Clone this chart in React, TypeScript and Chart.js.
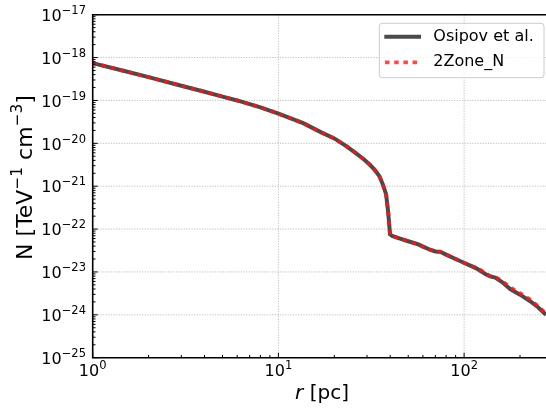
import React, { useEffect, useRef } from "react";
import { Chart, registerables } from "chart.js";

Chart.register(...registerables);

// ---- data ----
const R_PC = [1, 1.5, 2, 3, 4, 5, 6, 8, 10, 13.6, 17, 20, 23.3, 26, 28.7, 31, 33, 35, 36.5, 38, 39, 39.9, 41, 45.2, 50, 56.7, 61, 65.5, 70, 74.2, 80.5, 90, 99, 108, 117, 125, 130, 138, 147, 160, 177, 200, 226, 250, 276, 300];
const N_OSIPOV = [7.4e-19, 4.8e-19, 3.5e-19, 2.2e-19, 1.6e-19, 1.23e-19, 1.0e-19, 6.9e-20, 4.9e-20, 2.95e-20, 1.8e-20, 1.3e-20, 8.5e-21, 6.0e-21, 4.3e-21, 3.2e-21, 2.4e-21, 1.7e-21, 1.1e-21, 6.5e-22, 2.5e-22, 7.6e-23, 6.9e-23, 6.0e-23, 5.2e-23, 4.4e-23, 3.8e-23, 3.3e-23, 3.0e-23, 2.95e-23, 2.5e-23, 2.0e-23, 1.66e-23, 1.4e-23, 1.2e-23, 1.0e-23, 8.9e-24, 7.9e-24, 7.4e-24, 5.8e-24, 4.0e-24, 2.95e-24, 2.1e-24, 1.5e-24, 1.0e-24, 7.6e-25];
const N_2ZONE = [7.4e-19, 4.8e-19, 3.5e-19, 2.2e-19, 1.6e-19, 1.23e-19, 1.0e-19, 6.9e-20, 4.9e-20, 2.95e-20, 1.8e-20, 1.3e-20, 8.5e-21, 6.0e-21, 4.3e-21, 3.2e-21, 2.4e-21, 1.7e-21, 1.1e-21, 6.5e-22, 2.5e-22, 7.6e-23, 6.9e-23, 6.0e-23, 5.2e-23, 4.4e-23, 3.7e-23, 3.3e-23, 3.0e-23, 2.95e-23, 2.5e-23, 2.0e-23, 1.66e-23, 1.4e-23, 1.25e-23, 1.05e-23, 9.2e-24, 8.1e-24, 7.6e-24, 6.2e-24, 4.4e-24, 3.2e-24, 2.3e-24, 1.6e-24, 1.05e-24, 8e-25];

const SERIES_LABELS = ["Osipov et al.", "2Zone_N"];
const X_MIN = 1;
const X_MAX = 276;
const Y_MIN = 1e-25;
const Y_MAX = 1e-17;
const X_TICK_EXPONENTS = [0, 1, 2];
const Y_TICK_EXPONENTS = [-25, -24, -23, -22, -21, -20, -19, -18, -17];
const X_TITLE_ITALIC = "r";
const X_TITLE_REST = " [pc]";
const Y_TITLE_PARTS: { t: string; sup: boolean }[] = [
  { t: "N [TeV", sup: false },
  { t: "\u22121", sup: true },
  { t: " cm", sup: false },
  { t: "\u22123", sup: true },
  { t: "]", sup: false },
];

const GRAY = "#4a4a4a";
const RED = "rgba(255,20,20,0.78)";
const FONT = "'DejaVu Sans', sans-serif";

function expText(e: number) {
  return e < 0 ? "\u2212" + String(-e) : String(e);
}

function drawPow(ctx: CanvasRenderingContext2D, x: number, baseline: number, e: number, align: "center" | "right") {
  ctx.font = `16px ${FONT}`;
  const w1 = ctx.measureText("10").width;
  ctx.font = `11.5px ${FONT}`;
  const es = expText(e);
  const w2 = ctx.measureText(es).width;
  const total = w1 + w2;
  const start = align === "center" ? x - total / 2 : x - total;
  ctx.textAlign = "left";
  ctx.textBaseline = "alphabetic";
  ctx.font = `16px ${FONT}`;
  ctx.fillText("10", start, baseline);
  ctx.font = `11.5px ${FONT}`;
  ctx.fillText(es, start + w1, baseline - 7);
}

const mplPlugin = {
  id: "mplAxes",
  beforeDatasetsDraw(chart: any) {
    const { ctx, chartArea: a, scales } = chart;
    const xs = scales.x;
    const ys = scales.y;
    ctx.save();
    ctx.strokeStyle = "#b8b8b8";
    ctx.lineWidth = 0.9;
    ctx.setLineDash([1.2, 1.4]);
    for (const e of X_TICK_EXPONENTS) {
      const px = xs.getPixelForValue(Math.pow(10, e));
      ctx.beginPath();
      ctx.moveTo(px, a.top);
      ctx.lineTo(px, a.bottom);
      ctx.stroke();
    }
    for (const e of Y_TICK_EXPONENTS) {
      const py = ys.getPixelForValue(Math.pow(10, e));
      ctx.beginPath();
      ctx.moveTo(a.left, py);
      ctx.lineTo(a.right, py);
      ctx.stroke();
    }
    ctx.restore();
  },
  afterDatasetsDraw(chart: any) {
    const { ctx, chartArea: a, scales } = chart;
    const xs = scales.x;
    const ys = scales.y;
    ctx.save();
    // spines (left, top, bottom; right is outside the picture)
    ctx.strokeStyle = "#000";
    ctx.lineWidth = 1.6;
    ctx.setLineDash([]);
    ctx.beginPath();
    ctx.moveTo(a.right + 2, a.top);
    ctx.lineTo(a.left, a.top);
    ctx.lineTo(a.left, a.bottom);
    ctx.lineTo(a.right + 2, a.bottom);
    ctx.stroke();

    // ticks (inward)
    ctx.lineWidth = 1;
    for (const e of X_TICK_EXPONENTS) {
      for (let k = 1; k <= 9; k++) {
        const v = k * Math.pow(10, e);
        if (v < X_MIN || v > X_MAX) continue;
        const px = xs.getPixelForValue(v);
        const len = k === 1 ? 5 : 2.8;
        ctx.beginPath();
        ctx.moveTo(px, a.bottom);
        ctx.lineTo(px, a.bottom - len);
        ctx.stroke();
      }
    }
    for (const e of Y_TICK_EXPONENTS) {
      for (let k = 1; k <= 9; k++) {
        const v = k * Math.pow(10, e);
        if (v < Y_MIN * 0.999 || v > Y_MAX * 1.001) continue;
        const py = ys.getPixelForValue(v);
        const len = k === 1 ? 5 : 2.8;
        ctx.beginPath();
        ctx.moveTo(a.left, py);
        ctx.lineTo(a.left + len, py);
        ctx.stroke();
      }
    }

    // tick labels
    ctx.fillStyle = "#000";
    for (const e of X_TICK_EXPONENTS) {
      const px = xs.getPixelForValue(Math.pow(10, e));
      drawPow(ctx, px, a.bottom + 18.3, e, "center");
    }
    for (const e of Y_TICK_EXPONENTS) {
      const py = ys.getPixelForValue(Math.pow(10, e));
      drawPow(ctx, a.left - 6.7, py + 6.2, e, "right");
    }

    // x title
    ctx.font = `italic 20px ${FONT}`;
    const wi = ctx.measureText(X_TITLE_ITALIC).width;
    ctx.font = `20px ${FONT}`;
    const wr = ctx.measureText(X_TITLE_REST).width;
    const cx = 322;
    const sx = cx - (wi + wr) / 2;
    ctx.textAlign = "left";
    ctx.textBaseline = "alphabetic";
    ctx.font = `italic 20px ${FONT}`;
    ctx.fillText(X_TITLE_ITALIC, sx, 398.5);
    ctx.font = `20px ${FONT}`;
    ctx.fillText(X_TITLE_REST, sx + wi, 398.5);

    // y title (rotated)
    const big = `22px ${FONT}`;
    const small = `15.4px ${FONT}`;
    let tw = 0;
    const widths = Y_TITLE_PARTS.map((p) => {
      ctx.font = p.sup ? small : big;
      const w = ctx.measureText(p.t).width;
      tw += w;
      return w;
    });
    ctx.save();
    ctx.translate(31.7, 177.5);
    ctx.rotate(-Math.PI / 2);
    let cur = -tw / 2;
    Y_TITLE_PARTS.forEach((p, i) => {
      ctx.font = p.sup ? small : big;
      ctx.fillText(p.t, cur, p.sup ? -9.5 : 0);
      cur += widths[i];
    });
    ctx.restore();

    // legend
    const lx = 379.3, ly = 23.3, lw = 164.7, lh = 54.4, r = 3;
    ctx.beginPath();
    ctx.moveTo(lx + r, ly);
    ctx.lineTo(lx + lw - r, ly);
    ctx.arcTo(lx + lw, ly, lx + lw, ly + r, r);
    ctx.lineTo(lx + lw, ly + lh - r);
    ctx.arcTo(lx + lw, ly + lh, lx + lw - r, ly + lh, r);
    ctx.lineTo(lx + r, ly + lh);
    ctx.arcTo(lx, ly + lh, lx, ly + lh - r, r);
    ctx.lineTo(lx, ly + r);
    ctx.arcTo(lx, ly, lx + r, ly, r);
    ctx.closePath();
    ctx.fillStyle = "rgba(255,255,255,0.8)";
    ctx.fill();
    ctx.strokeStyle = "#cccccc";
    ctx.lineWidth = 1;
    ctx.stroke();

    const rows = [36.7, 62.3];
    ctx.lineWidth = 4;
    ctx.strokeStyle = GRAY;
    ctx.beginPath();
    ctx.moveTo(384.3, rows[0]);
    ctx.lineTo(421, rows[0]);
    ctx.stroke();
    ctx.strokeStyle = RED;
    ctx.lineWidth = 3.8;
    ctx.setLineDash([4.5, 4.7]);
    ctx.beginPath();
    ctx.moveTo(385, rows[1]);
    ctx.lineTo(421, rows[1]);
    ctx.stroke();
    ctx.setLineDash([]);

    ctx.fillStyle = "#000";
    ctx.font = `16px ${FONT}`;
    ctx.textAlign = "left";
    ctx.textBaseline = "middle";
    ctx.fillText(SERIES_LABELS[0], 433.3, rows[0]);
    ctx.fillText(SERIES_LABELS[1], 433.3, rows[1]);
    ctx.restore();
  },
};

export default function App() {
  const ref = useRef<HTMLCanvasElement | null>(null);
  useEffect(() => {
    if (!ref.current) return;
    const chart = new Chart(ref.current, {
      type: "line",
      data: {
        datasets: [
          {
            label: SERIES_LABELS[0],
            data: R_PC.map((x, i) => ({ x, y: N_OSIPOV[i] })),
            borderColor: GRAY,
            borderWidth: 4,
            pointRadius: 0,
            tension: 0,
            fill: false,
            order: 2,
          },
          {
            label: SERIES_LABELS[1],
            data: R_PC.map((x, i) => ({ x, y: N_2ZONE[i] })),
            borderColor: RED,
            borderWidth: 3.8,
            borderDash: [4.5, 4.7],
            pointRadius: 0,
            tension: 0,
            fill: false,
            order: 1,
          },
        ],
      },
      options: {
        animation: false,
        responsive: false,
        devicePixelRatio: 1,
        layout: { padding: { left: 92.7, top: 14.7, right: 0, bottom: 51.3 } },
        plugins: { legend: { display: false }, tooltip: { enabled: false }, title: { display: false } },
        scales: {
          x: { type: "logarithmic", min: X_MIN, max: X_MAX, display: false },
          y: { type: "logarithmic", min: Y_MIN, max: Y_MAX, display: false },
        },
      },
      plugins: [mplPlugin],
    });
    return () => chart.destroy();
  }, []);
  return (
    <div style={{ position: "absolute", left: 0, top: 0, width: 546, height: 409, background: "#fff" }}>
      <canvas ref={ref} width={546} height={409} style={{ display: "block" }} />
    </div>
  );
}
